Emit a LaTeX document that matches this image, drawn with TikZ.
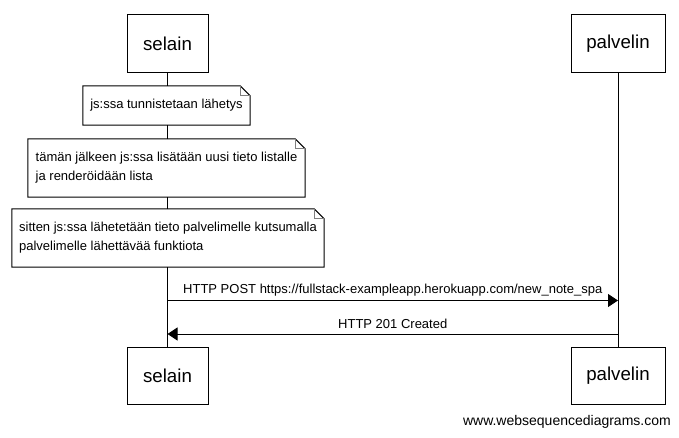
\documentclass[tikz,border=0pt]{standalone}
\usepackage{fontspec}
\setmainfont{Liberation Sans}
\usetikzlibrary{arrows.meta}
\begin{document}
\begin{tikzpicture}[x=1pt,y=-1pt,
  actor/.style={draw,line width=1pt,fill=white,minimum height=58pt,inner sep=0pt,font=\fontsize{18.7}{22}\selectfont},
  notebox/.style={fill=white,inner sep=0pt,align=left,font=\fontsize{13}{19}\selectfont},
  msg/.style={line width=1pt,-{Triangle[length=10pt,width=13pt]}},
  lbl/.style={font=\fontsize{13}{16}\selectfont,inner sep=0pt},
  life/.style={line width=1pt}]
\useasboundingbox (0,0) rectangle (679,438);
\fill[white] (0,0) rectangle (679,438);
% participants
\node[actor,minimum width=81pt] (s1) at (167.5,44) {selain};
\node[actor,minimum width=94pt] (p1) at (618,44) {palvelin};
\node[actor,minimum width=81pt,minimum height=57pt] (s2) at (167.5,375.5) {selain};
\node[actor,minimum width=94pt,minimum height=57pt] (p2) at (618,375.5) {palvelin};
% lifelines
\draw[life] (s1.south) -- (s2.north);
\draw[life] (p1.south) -- (p2.north);
% notes
\newcommand{\notefold}[1]{%
  \draw[line width=1pt] (#1.north west) -- ([xshift=-10pt]#1.north east) -- ([yshift=-10pt]#1.north east) -- (#1.south east) -- (#1.south west) -- cycle;
  \draw[gray,line width=0.8pt] ([xshift=-10pt]#1.north east) -- ([xshift=-10pt,yshift=-10pt]#1.north east) -- ([yshift=-10pt]#1.north east);}
\node[notebox,minimum width=167pt,minimum height=39pt] (n1) at (166.5,105.5) {js:ssa tunnistetaan lähetys};
\notefold{n1}
\node[notebox,minimum width=277pt,minimum height=58pt] (n2) at (166.5,168) {tämän jälkeen js:ssa lisätään uusi tieto listalle\\ja renderöidään lista};
\notefold{n2}
\node[notebox,minimum width=312pt,minimum height=58pt] (n3) at (168,238) {sitten js:ssa lähetetään tieto palvelimelle kutsumalla\\palvelimelle lähettävää funktiota};
\notefold{n3}
% messages
\coordinate (a1s) at (s1.center |- 0,300.5);
\coordinate (a1e) at (p1.center |- 0,300.5);
\draw[msg] (a1s) -- (a1e) node[lbl,midway,above=4pt] {HTTP POST https://fullstack-exampleapp.herokuapp.com/new\_note\_spa};
\coordinate (a2s) at (p1.center |- 0,334);
\coordinate (a2e) at (s1.center |- 0,334);
\draw[msg] (a2s) -- (a2e) node[lbl,midway,above=5pt] {HTTP 201 Created};
% watermark
\node[anchor=east,inner sep=0pt,font=\fontsize{14}{16}\selectfont] (wm) at (671,422) {www.websequencediagrams.com};
\end{tikzpicture}
\end{document}
